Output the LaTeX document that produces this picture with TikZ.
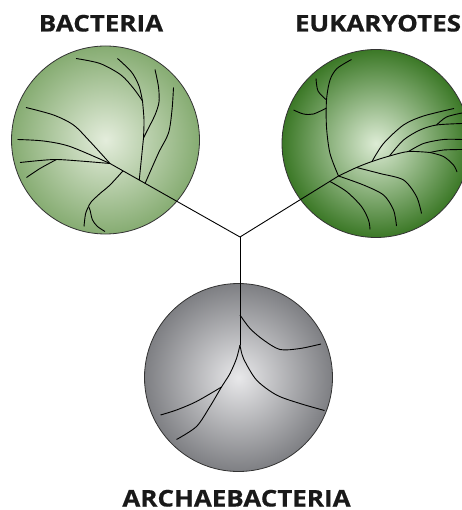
\documentclass[tikz,border=0pt]{standalone}
\usepackage{fontspec}
\setmainfont{Open Sans}
\newfontfamily\lblfont{Open Sans}[BoldFeatures={FakeBold=0.5}]
\usetikzlibrary{calc}
\definecolor{bacIn}{HTML}{E4EDDC}
\definecolor{bacOut}{HTML}{86AC72}
\definecolor{eukIn}{HTML}{DDECD5}
\definecolor{eukOut}{HTML}{3B7826}
\definecolor{arcIn}{HTML}{E8E8EA}
\definecolor{arcOut}{HTML}{7E7F83}
\newcommand{\lbltext}[1]{\scalebox{1.13}[1]{#1}}
\begin{document}
\begin{tikzpicture}[x=1pt,y=-1pt,
  cell/.style={circle, draw=black!80, line width=0.8pt, minimum size=188pt, inner sep=0pt},
  br/.style={line width=0.9pt, black},
  lbl/.style={font=\lblfont\bfseries\fontsize{23}{26}\selectfont, text=black!90, inner sep=0pt}]
\useasboundingbox (0,0) rectangle (461,510);
% cells
\node[cell, inner color=bacIn, outer color=bacOut] (bac) at (105.5,140) {};
\node[cell, inner color=eukIn, outer color=eukOut] (euk) at (376,143.5) {};
\node[cell, inner color=arcIn, outer color=arcOut] (arc) at (238.5,377.5) {};
% labels
\node[lbl, anchor=base] (tb) at (101,31.5) {\lbltext{BACTERIA}};
\node[lbl, anchor=base] (te) at (378,31.5) {\lbltext{EUKARYOTES}};
\node[lbl, anchor=base] (ta) at (236.5,506.5) {\lbltext{ARCHAEBACTERIA}};
% key points
\coordinate (J) at (240,237);
\coordinate (A) at (110,163.5);
\coordinate (E1) at (338.5,176);
\coordinate (K) at (240,345);
% ---- bacteria
\draw[br] (J) -- (A);
\coordinate (bj1) at ($(A)!0.225!(J)$);
\coordinate (bj2) at ($(A)!0.27!(J)$);
\coordinate (bj3) at ($(A)!0.10!(J)$);
\coordinate (B1) at (142.5,101);
\coordinate (S) at (143.5,138);
\draw[br] plot[smooth] coordinates {(76,58.5) (100,63.5) (121,75) (134,89) (B1)};
\draw[br] plot[smooth] coordinates {(117.5,58.5) (131.5,72) (139,86) (B1)};
\draw[br] plot[smooth] coordinates {(B1) (144,120) (S)};
\draw[br] plot[smooth] coordinates {(155,69.5) (158.5,87) (159,102) (155,115) (147.5,130) (S)};
\draw[br] (S) -- (bj1);
\draw[br] plot[smooth] coordinates {(173.5,87.5) (172,110) (168.5,133) (158.5,153) (bj2)};
\draw[br] plot[smooth] coordinates {(26,107.5) (53.5,115) (73.5,125) (90,141.5) (A)};
\draw[br] plot[smooth] coordinates {(17.5,139.5) (43.5,141) (70,146.5) (A)};
\draw[br] plot[smooth] coordinates {(20,162.5) (40,160.5) (56.5,159.5) (80,161) (A)};
\draw[br] plot[smooth] coordinates {(26.5,177.5) (40,168.5) (56.5,159.5)};
\coordinate (I1) at (88.5,206.5);
\draw[br] plot[smooth] coordinates {(bj3) (110,185) (100,193.5) (91.5,201.5) (I1)};
\draw[br] plot[smooth] coordinates {(I1) (85.5,214) (84,226.5)};
\draw[br] plot[smooth] coordinates {(I1) (90,210) (92.5,220) (97.5,226.5) (105,231.5)};
% ---- eukaryotes
\draw[br] (J) -- (E1);
\coordinate (E2) at (430,152.5);
\draw[br] plot[smooth] coordinates {(E1) (356.5,167.5) (372,161.5) (389.5,156) (408.5,151.5) (E2)};
\draw[br] plot[smooth] coordinates {(E2) (443.5,150) (462,149.5)};
\draw[br] plot[smooth] coordinates {(E2) (443.5,156.5) (453.5,165) (457,172)};
\draw[br] plot[smooth] coordinates {(372,161.5) (383.5,143.5) (403.5,125) (423.5,116) (454,108.5)};
\draw[br] plot[smooth] coordinates {(389.5,156) (403.5,140) (420,130) (436.5,125) (462,123.5)};
\draw[br] plot[smooth] coordinates {(436.5,125) (446.5,117) (462,113)};
\draw[br] plot[smooth] coordinates {(408.5,151.5) (423.5,143.5) (443.5,139.5) (462,139.5)};
\draw[br] plot[smooth] coordinates {(330,181.5) (346.5,191.5) (361.5,206.5) (368.5,220) (370,229.5)};
\draw[br] plot[smooth] coordinates {(E1) (363.5,185) (383.5,195) (393.5,210) (396.5,226)};
\draw[br] plot[smooth] coordinates {(356.5,167.5) (380,173.5) (403.5,180) (416.5,196.5) (421.5,213.5)};
\draw[br] plot[smooth] coordinates {(E1) (330,153.5) (326.5,127) (326.5,100) (330,80) (337,68.5) (351.5,59.5)};
\draw[br] plot[smooth] coordinates {(326.5,100) (318,91) (316,78.5)};
\draw[br] plot[smooth] coordinates {(326.5,108) (313.5,114) (303.5,114) (293.5,110)};
% ---- archaebacteria
\draw[br] (J) -- (K);
\coordinate (R0) at (240,315);
\draw[br] plot[smooth] coordinates {(R0) (250,328.5) (263.5,340) (280,349.5) (300,348.5) (321,344)};
\coordinate (L0) at (221.5,387);
\draw[br] plot[smooth] coordinates {(K) (236.5,358.5) (230,373.5) (L0) (210,406.5) (196.5,426.5) (176.5,439.5)};
\draw[br] plot[smooth] coordinates {(L0) (196.5,401.5) (176.5,410) (160.5,415)};
\draw[br] plot[smooth] coordinates {(K) (243.5,358.5) (256.5,380) (276.5,395) (300,403.5) (324.5,410.5)};
\end{tikzpicture}
\end{document}
